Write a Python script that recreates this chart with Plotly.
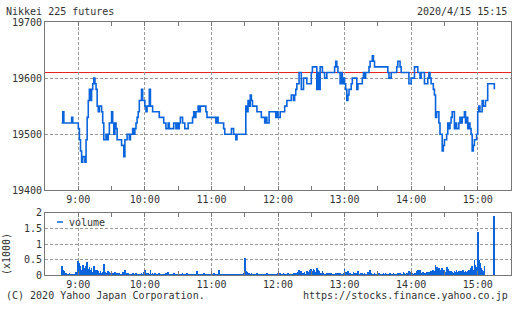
import plotly.graph_objects as go
import pandas as pd

DAY = "2020-04-15"
PREV_CLOSE = 19610

# price change points (time, price) -> step line
price_times = [
    "08:45","08:46","08:47","08:54","08:55","09:00","09:01","09:02","09:03","09:04",
    "09:06","09:07","09:08","09:09","09:10","09:11","09:12","09:13","09:14","09:15",
    "09:16","09:17","09:18","09:19","09:21","09:22","09:23","09:25","09:26","09:27",
    "09:28","09:30","09:31","09:32","09:33","09:34","09:35","09:39","09:41","09:42",
    "09:44","09:46","09:47","09:49","09:50","09:51","09:52","09:53","09:54","09:55",
    "09:57","09:58","10:00","10:01","10:02","10:04","10:05","10:07","10:13","10:17",
    "10:19","10:21","10:22","10:26","10:28","10:29","10:30","10:31","10:32","10:34",
    "10:36","10:39","10:43","10:44","10:45","10:46","10:48","10:49","10:50","10:55",
    "10:56","11:04","11:05","11:06","11:11","11:12","11:18","11:20","11:22","11:23",
    "11:31","11:32","11:33","11:34","11:35","11:36","11:37","11:41","11:45","11:48",
    "11:49","11:50","11:52","11:58","11:59","12:00","12:02","12:06","12:08","12:12",
    "12:14","12:15","12:16","12:17","12:19","12:21","12:23","12:26","12:30","12:31",
    "12:35","12:36","12:37","12:38","12:40","12:42","12:44","12:51","12:52","12:53",
    "12:54","12:56","12:57","12:58","12:59","13:00","13:01","13:02","13:03","13:04",
    "13:06","13:07","13:11","13:12","13:16","13:17","13:18","13:19","13:22","13:23",
    "13:25","13:26","13:27","13:39","13:40","13:42","13:47","13:48","13:50","13:51",
    "13:58","14:00","14:03","14:06","14:08","14:09","14:12","14:15","14:16","14:17",
    "14:18","14:20","14:21","14:22","14:23","14:25","14:26","14:28","14:29","14:30",
    "14:32","14:33","14:34","14:35","14:36","14:37","14:39","14:40","14:41","14:43",
    "14:44","14:45","14:46","14:48","14:49","14:50","14:51","14:52","14:53","14:54",
    "14:55","14:56","14:57","14:59","15:00","15:01","15:02","15:04","15:05","15:07",
    "15:09","15:15",
]
prices = [
    19520,19540,19520,19530,19520,19510,19490,19470,19450,19460,
    19450,19490,19530,19560,19580,19560,19580,19590,19600,19590,
    19580,19550,19540,19550,19540,19520,19490,19500,19490,19500,
    19520,19540,19520,19500,19520,19510,19490,19480,19460,19490,
    19500,19490,19500,19510,19500,19510,19520,19530,19540,19560,
    19580,19560,19550,19540,19550,19580,19550,19540,19530,19520,
    19510,19520,19510,19520,19510,19520,19510,19520,19530,19520,
    19510,19520,19530,19540,19530,19540,19550,19540,19550,19540,
    19530,19520,19530,19520,19510,19500,19510,19500,19490,19500,
    19550,19540,19560,19550,19570,19560,19550,19540,19530,19520,
    19530,19520,19540,19530,19540,19530,19540,19550,19560,19570,
    19560,19570,19580,19590,19610,19580,19600,19590,19610,19620,
    19580,19610,19580,19620,19610,19600,19610,19620,19630,19620,
    19610,19590,19610,19590,19600,19590,19580,19560,19570,19580,
    19590,19600,19580,19590,19600,19610,19600,19610,19620,19630,
    19640,19630,19620,19610,19600,19610,19620,19630,19620,19610,
    19590,19600,19620,19610,19600,19610,19590,19600,19610,19600,
    19590,19580,19570,19530,19540,19520,19500,19470,19480,19490,
    19500,19520,19510,19520,19530,19540,19510,19520,19510,19520,
    19530,19520,19530,19540,19520,19530,19510,19520,19510,19500,
    19470,19480,19490,19500,19540,19550,19540,19560,19550,19560,
    19590,19580,
]

# per-minute volume (contracts), 08:45 .. 15:15, one row per quarter hour
volume = [
    320,200,150,60,80,40,50,90,60,30,70,50,40,110,90,
    470,400,300,180,330,250,160,300,450,220,280,180,250,120,300,
    200,150,180,160,100,140,90,130,380,120,100,80,150,110,90,
    70,100,60,120,80,90,60,80,70,50,110,60,200,80,60,
    90,50,70,60,80,40,60,90,50,70,60,40,80,60,110,
    170,80,60,90,70,200,60,80,50,90,60,70,40,80,60,
    50,70,40,60,80,50,120,60,40,70,50,90,60,40,60,
    70,40,60,50,80,40,60,50,90,40,60,50,70,40,60,
    50,60,150,40,70,50,60,40,80,50,40,60,50,70,40,
    60,50,80,40,60,50,70,170,50,40,60,50,70,40,60,
    50,40,60,50,70,40,50,60,40,70,50,40,60,50,80,
    570,150,120,80,100,60,80,50,70,60,40,80,50,60,40,
    70,50,40,60,50,80,40,60,50,40,70,50,60,40,50,
    80,60,100,70,50,90,60,70,40,80,60,50,70,60,90,
    80,100,70,130,200,90,150,100,80,120,60,140,90,110,180,
    220,150,230,180,120,250,200,140,100,80,150,90,70,60,80,
    60,90,70,80,60,50,70,90,60,100,50,80,60,70,90,
    220,120,90,150,80,100,70,60,120,90,80,60,150,70,60,
    80,100,60,90,70,60,120,80,180,90,70,60,80,50,70,
    60,90,50,70,60,80,50,100,60,70,50,80,60,50,90,
    70,60,50,80,60,90,70,50,120,80,60,100,70,150,90,
    110,80,70,100,90,160,200,120,180,90,70,120,80,100,110,
    90,120,100,150,140,200,160,350,280,180,250,120,200,240,170,
    180,130,280,220,150,120,160,130,100,150,120,180,110,160,120,
    140,110,170,120,150,130,160,200,140,250,300,200,500,350,280,
    1380,500,400,250,200,150,300,0,0,0,0,0,0,0,0,
    1900,
]

hour_ticks = ["09:00","10:00","11:00","12:00","13:00","14:00","15:00"]
hour_labels = ["9:00","10:00","11:00","12:00","13:00","14:00","15:00"]
price_ticks = [19400, 19500, 19600, 19700]
vol_ticks = [0, 0.5, 1, 1.5, 2]
vol_tick_labels = ["0", "0.5", "1", "1.5", "2"]

W, H = 512, 310
FONT = "DejaVu Sans Mono"
TXT = "#333333"
BLUE = "#0a64dc"
GRID = "#999999"
FRAME = "#777777"

px_t = [f"{DAY} {t}" for t in price_times]
vol_t = pd.date_range(f"{DAY} 08:45", f"{DAY} 15:15", freq="1min")
vol_k = [v / 1000 for v in volume]

fig = go.Figure()
fig.add_trace(go.Scatter(x=px_t, y=prices, mode="lines",
                         line=dict(color=BLUE, width=1.6, shape="hv"),
                         xaxis="x", yaxis="y", showlegend=False))
fig.add_trace(go.Bar(x=vol_t, y=vol_k, marker=dict(color=BLUE, line_width=0),
                     width=40000, xaxis="x2", yaxis="y2", showlegend=False))

xd = [45 / W, 511 / W]
xr = [f"{DAY} 08:30", f"{DAY} 15:30"]
tickfont = dict(family=FONT, size=10, color=TXT)

def xaxis(anchor):
    return dict(domain=xd, type="date", range=xr, anchor=anchor,
                tickvals=[f"{DAY} {t}" for t in hour_ticks], ticktext=hour_labels,
                showgrid=True, gridcolor=GRID, griddash="3px,2px", gridwidth=1,
                showline=True, linecolor=FRAME, linewidth=1, mirror="ticks",
                ticks="inside", ticklen=4, tickcolor=FRAME,
                minor=dict(dtick=1800000, tick0=f"{DAY} 08:30", ticks="inside",
                           ticklen=4, tickcolor=FRAME, showgrid=False),
                tickfont=tickfont, zeroline=False, fixedrange=True)

fig.update_layout(
    width=W, height=H, margin=dict(l=0, r=0, t=0, b=0),
    paper_bgcolor="white", plot_bgcolor="white",
    xaxis=xaxis("y"),
    xaxis2=xaxis("y2"),
    yaxis=dict(domain=[1 - 191.7 / H, 1 - 16.7 / H], range=[19400, 19700],
               tickvals=price_ticks, tickformat="d",
               showgrid=True, gridcolor=GRID, griddash="3px,2px", gridwidth=1,
               showline=True, linecolor=FRAME, linewidth=1, mirror=True,
               ticks="", tickfont=tickfont, zeroline=False, anchor="x"),
    yaxis2=dict(domain=[1 - 280.3 / H, 1 - 215 / H], range=[0, 2],
                tickvals=vol_ticks, ticktext=vol_tick_labels,
                showgrid=True, gridcolor=GRID, griddash="3px,2px", gridwidth=1,
                showline=True, linecolor=FRAME, linewidth=1, mirror=True,
                ticks="", tickfont=tickfont, zeroline=False, anchor="x2"),
    bargap=0,
    shapes=[
        dict(type="line", xref="x domain", x0=0, x1=1, yref="y",
             y0=PREV_CLOSE, y1=PREV_CLOSE, line=dict(color="#e82020", width=1),
             layer="below"),
        dict(type="line", xref="paper", x0=57 / W, x1=63 / W, yref="paper",
             y0=1 - 224.7 / H, y1=1 - 224.7 / H, line=dict(color=BLUE, width=1.5)),
    ],
    annotations=[
        dict(text="Nikkei 225 futures", x=4 / W, y=1 - 6 / H, xref="paper", yref="paper",
             xanchor="left", yanchor="middle", showarrow=False, font=tickfont),
        dict(text="2020/4/15 15:15", x=509 / W, y=1 - 6 / H, xref="paper", yref="paper",
             xanchor="right", yanchor="middle", showarrow=False, font=tickfont),
        dict(text="(C) 2020 Yahoo Japan Corporation.", x=4 / W, y=1 - 301.5 / H,
             xref="paper", yref="paper", xanchor="left", yanchor="middle",
             showarrow=False, font=tickfont),
        dict(text="https://stocks.finance.yahoo.co.jp", x=510 / W, y=1 - 301.5 / H,
             xref="paper", yref="paper", xanchor="right", yanchor="middle",
             showarrow=False, font=tickfont),
        dict(text="(x1000)", x=6 / W, y=1 - 258 / H, xref="paper", yref="paper",
             xanchor="center", yanchor="middle", textangle=-90,
             showarrow=False, font=tickfont),
        dict(text="volume", x=67 / W, y=1 - 224.7 / H, xref="paper", yref="paper",
             xanchor="left", yanchor="middle", showarrow=False, font=tickfont),
    ],
)

fig.write_html("out.html")
